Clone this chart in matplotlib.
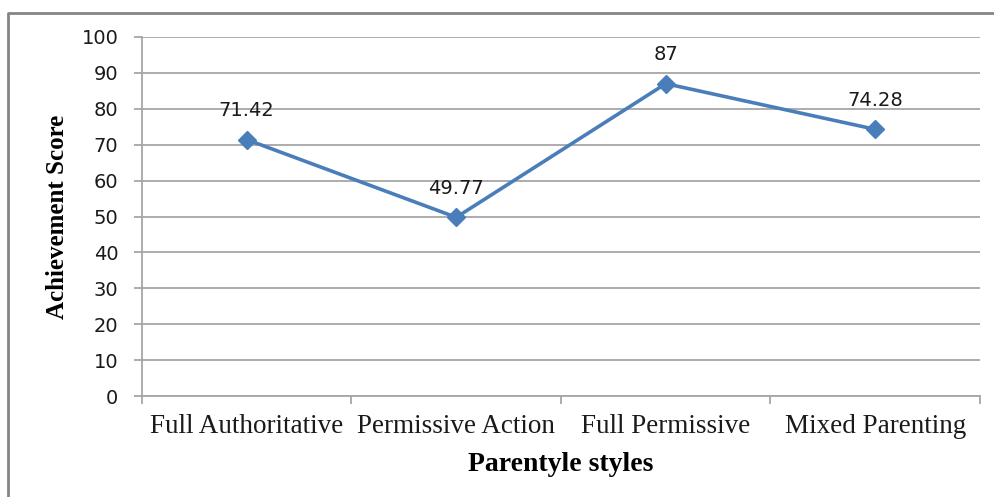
import matplotlib
matplotlib.use("Agg")
import matplotlib.pyplot as plt
from matplotlib.lines import Line2D
from matplotlib.ticker import FixedLocator

categories = ["Full Authoritative", "Permissive Action", "Full Permissive", "Mixed Parenting"]
scores = [71.42, 49.77, 87, 74.28]
score_labels = ["71.42", "49.77", "87", "74.28"]
y_ticks = [0, 10, 20, 30, 40, 50, 60, 70, 80, 90, 100]

LINE = "#4A7EBB"
GRID = "#A6A6A6"

fig = plt.figure(figsize=(9.95, 4.97), dpi=100)
# chart frame: only the top and left edges fall inside the picture
fig.lines.append(Line2D([8 / 995, 8 / 995, 1.0], [0.0, 1 - 13 / 497, 1 - 13 / 497],
                        transform=fig.transFigure, color="#858585", linewidth=2))

ax = fig.add_axes([142 / 995, 1 - 396 / 497, 838 / 995, 359 / 497])
x = list(range(len(categories)))
ax.plot(x, scores, color=LINE, linewidth=2.6, marker="D", markersize=9,
        markerfacecolor=LINE, markeredgecolor=LINE, zorder=3)
for xi, v, lab in zip(x, scores, score_labels):
    ax.annotate(lab, (xi, v), xytext=(0, 21), textcoords="offset points",
                ha="center", va="center", fontsize=14, family="DejaVu Sans",
                color="#1a1a1a")

ax.set_xlim(-0.5, len(categories) - 0.5)
ax.set_ylim(0, 100)
ax.set_yticks(y_ticks)
ax.set_yticklabels([str(t) for t in y_ticks], fontsize=14, family="DejaVu Sans",
                   color="#1a1a1a")
ax.set_xticks(x)
ax.set_xticklabels(categories, fontsize=19.5, family="Liberation Serif", color="#1a1a1a")
ax.xaxis.set_minor_locator(FixedLocator([i - 0.5 for i in range(len(categories) + 1)]))
ax.tick_params(axis="x", which="major", length=0, pad=13)
ax.tick_params(axis="x", which="minor", length=6, color=GRID, width=1.3)
ax.tick_params(axis="y", length=6, color=GRID, width=1.3, pad=11)
ax.grid(axis="y", color=GRID, linewidth=1.3)
ax.set_axisbelow(True)
for s in ["top", "right"]:
    ax.spines[s].set_visible(False)
for s in ["left", "bottom"]:
    ax.spines[s].set_color(GRID)
    ax.spines[s].set_linewidth(1.3)

ax.set_xlabel("Parentyle styles", fontsize=20, family="Liberation Serif",
              fontweight="bold", labelpad=9)
ax.set_ylabel("Achievement Score", fontsize=18, family="Liberation Serif",
              fontweight="bold", labelpad=9)

fig.savefig("out.png", dpi=100)
